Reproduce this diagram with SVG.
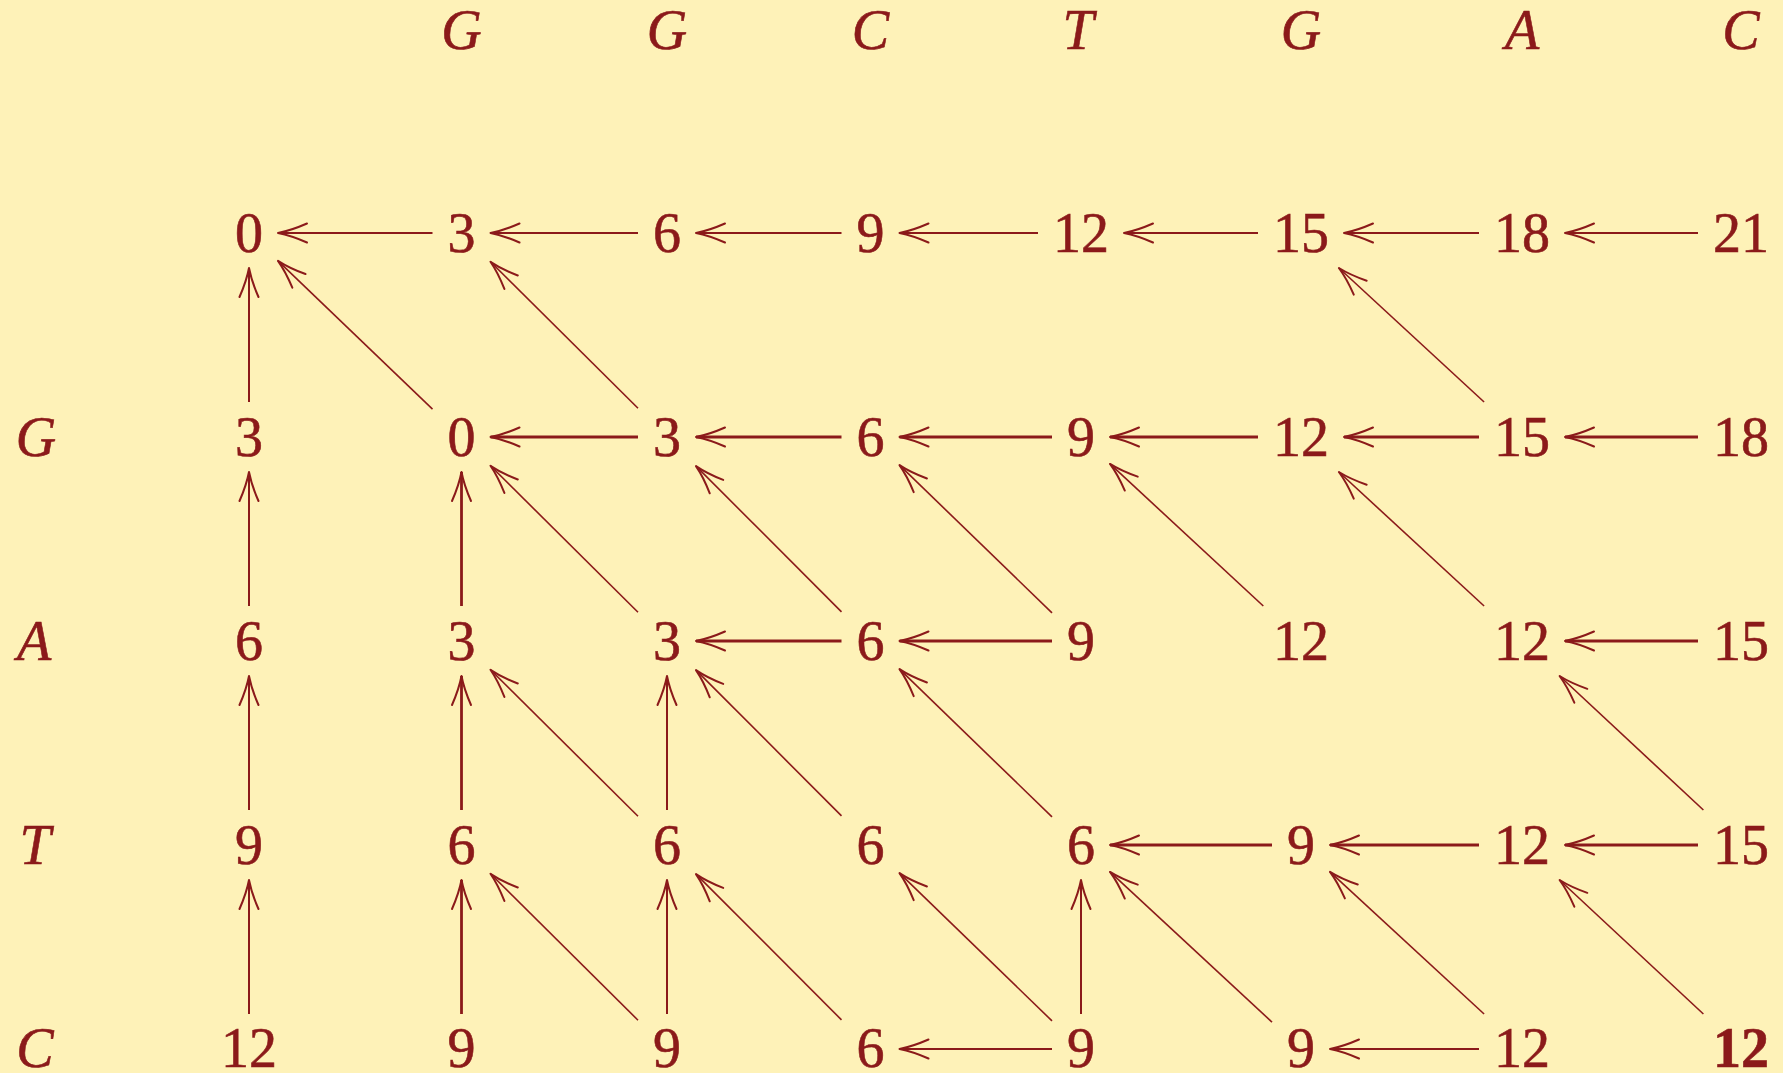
<svg xmlns="http://www.w3.org/2000/svg" width="1783" height="1073" viewBox="0 0 1783 1073">
<defs>
<style>
.n{font-family:"Liberation Serif","Times New Roman",serif;font-size:56px;fill:#8B1A1A;stroke:#8B1A1A;stroke-width:0.6;text-anchor:middle}
.l{font-style:italic}
.b{font-weight:bold}
.a{stroke:#8B1A1A;fill:none;marker-end:url(#ah)}
.h{stroke-width:2.8}
.s{stroke-width:2}
.d{stroke-width:1.6}
</style>
<marker id="ah" markerUnits="userSpaceOnUse" orient="auto" refX="0" refY="0" markerWidth="40" markerHeight="30" viewBox="-34 -15 40 30" overflow="visible">
<path d="M-29,-9.5 Q-13,-2.5 0,0 Q-13,2.5 -29,9.5" fill="none" stroke="#8B1A1A" stroke-width="2" stroke-linecap="round" stroke-linejoin="round"/>
</marker>
</defs>
<rect width="1783" height="1073" fill="#FEF2B8"/>

<g id="header">
<g id="h1"><text class="n l" x="461.5" y="49">G</text></g>
<g id="h2"><text class="n l" x="667" y="49">G</text></g>
<g id="h3"><text class="n l" x="870.5" y="49">C</text></g>
<g id="h4"><text class="n l" x="1078" y="49">T</text></g>
<g id="h5"><text class="n l" x="1301" y="49">G</text></g>
<g id="h6"><text class="n l" x="1522" y="49">A</text></g>
<g id="h7"><text class="n l" x="1741" y="49">C</text></g>
</g>
<g id="labels">
<g id="lG"><text class="n l" x="36" y="456">G</text></g>
<g id="lA"><text class="n l" x="34" y="660">A</text></g>
<g id="lT"><text class="n l" x="35" y="864">T</text></g>
<g id="lC"><text class="n l" x="35" y="1067">C</text></g>
</g>

<g id="row0">
<g id="n0-0"><text class="n" x="249" y="252">0</text></g>
<g id="n0-1"><text class="n" x="461.5" y="252">3</text></g>
<g id="n0-2"><text class="n" x="667" y="252">6</text></g>
<g id="n0-3"><text class="n" x="870.5" y="252">9</text></g>
<g id="n0-4"><text class="n" x="1081" y="252">12</text></g>
<g id="n0-5"><text class="n" x="1301" y="252">15</text></g>
<g id="n0-6"><text class="n" x="1522" y="252">18</text></g>
<g id="n0-7"><text class="n" x="1741" y="252">21</text></g>
</g>
<g id="row1">
<g id="n1-0"><text class="n" x="249" y="456">3</text></g>
<g id="n1-1"><text class="n" x="461.5" y="456">0</text></g>
<g id="n1-2"><text class="n" x="667" y="456">3</text></g>
<g id="n1-3"><text class="n" x="870.5" y="456">6</text></g>
<g id="n1-4"><text class="n" x="1081" y="456">9</text></g>
<g id="n1-5"><text class="n" x="1301" y="456">12</text></g>
<g id="n1-6"><text class="n" x="1522" y="456">15</text></g>
<g id="n1-7"><text class="n" x="1741" y="456">18</text></g>
</g>
<g id="row2">
<g id="n2-0"><text class="n" x="249" y="660">6</text></g>
<g id="n2-1"><text class="n" x="461.5" y="660">3</text></g>
<g id="n2-2"><text class="n" x="667" y="660">3</text></g>
<g id="n2-3"><text class="n" x="870.5" y="660">6</text></g>
<g id="n2-4"><text class="n" x="1081" y="660">9</text></g>
<g id="n2-5"><text class="n" x="1301" y="660">12</text></g>
<g id="n2-6"><text class="n" x="1522" y="660">12</text></g>
<g id="n2-7"><text class="n" x="1741" y="660">15</text></g>
</g>
<g id="row3">
<g id="n3-0"><text class="n" x="249" y="864">9</text></g>
<g id="n3-1"><text class="n" x="461.5" y="864">6</text></g>
<g id="n3-2"><text class="n" x="667" y="864">6</text></g>
<g id="n3-3"><text class="n" x="870.5" y="864">6</text></g>
<g id="n3-4"><text class="n" x="1081" y="864">6</text></g>
<g id="n3-5"><text class="n" x="1301" y="864">9</text></g>
<g id="n3-6"><text class="n" x="1522" y="864">12</text></g>
<g id="n3-7"><text class="n" x="1741" y="864">15</text></g>
</g>
<g id="row4">
<g id="n4-0"><text class="n" x="249" y="1067">12</text></g>
<g id="n4-1"><text class="n" x="461.5" y="1067">9</text></g>
<g id="n4-2"><text class="n" x="667" y="1067">9</text></g>
<g id="n4-3"><text class="n" x="870.5" y="1067">6</text></g>
<g id="n4-4"><text class="n" x="1081" y="1067">9</text></g>
<g id="n4-5"><text class="n" x="1301" y="1067">9</text></g>
<g id="n4-6"><text class="n" x="1522" y="1067">12</text></g>
<g id="n4-7"><text class="n b" x="1741" y="1067">12</text></g>
</g>

<g id="connectors">
<line class="a s" x1="432.5" y1="233" x2="278" y2="233"/>
<line class="a s" x1="638" y1="233" x2="490.5" y2="233"/>
<line class="a s" x1="841.5" y1="233" x2="696" y2="233"/>
<line class="a s" x1="1038" y1="233" x2="899.5" y2="233"/>
<line class="a s" x1="1258" y1="233" x2="1124" y2="233"/>
<line class="a s" x1="1479" y1="233" x2="1344" y2="233"/>
<line class="a s" x1="1698" y1="233" x2="1565" y2="233"/>

<line class="a h" x1="638" y1="437" x2="490.5" y2="437"/>
<line class="a h" x1="841.5" y1="437" x2="696" y2="437"/>
<line class="a h" x1="1052" y1="437" x2="899.5" y2="437"/>
<line class="a h" x1="1258" y1="437" x2="1110" y2="437"/>
<line class="a h" x1="1479" y1="437" x2="1344" y2="437"/>
<line class="a h" x1="1698" y1="437" x2="1565" y2="437"/>

<line class="a h" x1="841.5" y1="641" x2="696" y2="641"/>
<line class="a h" x1="1052" y1="641" x2="899.5" y2="641"/>
<line class="a h" x1="1698" y1="641" x2="1565" y2="641"/>

<line class="a h" x1="1272" y1="845" x2="1110" y2="845"/>
<line class="a h" x1="1479" y1="845" x2="1330" y2="845"/>
<line class="a h" x1="1698" y1="845" x2="1565" y2="845"/>

<line class="a s" x1="1052" y1="1049" x2="899.5" y2="1049"/>
<line class="a s" x1="1479" y1="1049" x2="1330" y2="1049"/>

<line class="a s" x1="249" y1="402" x2="249" y2="268"/>
<line class="a s" x1="249" y1="606" x2="249" y2="472"/>
<line class="a s" x1="249" y1="810" x2="249" y2="676"/>
<line class="a s" x1="249" y1="1014" x2="249" y2="880"/>
<line class="a h" x1="461.5" y1="606" x2="461.5" y2="472"/>
<line class="a h" x1="461.5" y1="810" x2="461.5" y2="676"/>
<line class="a h" x1="461.5" y1="1014" x2="461.5" y2="880"/>
<line class="a s" x1="667" y1="810" x2="667" y2="676"/>
<line class="a s" x1="667" y1="1014" x2="667" y2="880"/>
<line class="a s" x1="1081" y1="1014" x2="1081" y2="880"/>

<line class="a d" x1="432.5" y1="409.2" x2="278" y2="260.8"/>
<line class="a d" x1="638" y1="408.2" x2="490.5" y2="261.8"/>
<line class="a d" x1="1484.1" y1="402" x2="1338.9" y2="268"/>
<line class="a d" x1="638" y1="612.2" x2="490.5" y2="465.8"/>
<line class="a d" x1="841.5" y1="611.9" x2="696" y2="466.1"/>
<line class="a d" x1="1052" y1="612.9" x2="899.5" y2="465.1"/>
<line class="a d" x1="1263.3" y1="606" x2="1110" y2="463.9"/>
<line class="a d" x1="1484.1" y1="606" x2="1338.9" y2="472"/>
<line class="a d" x1="638" y1="816.2" x2="490.5" y2="669.8"/>
<line class="a d" x1="841.5" y1="815.9" x2="696" y2="670.1"/>
<line class="a d" x1="1052" y1="816.9" x2="899.5" y2="669.1"/>
<line class="a d" x1="1703.4" y1="810" x2="1559.6" y2="676"/>
<line class="a d" x1="638" y1="1020.2" x2="490.5" y2="873.8"/>
<line class="a d" x1="841.5" y1="1019.9" x2="696" y2="874.1"/>
<line class="a d" x1="1052" y1="1020.9" x2="899.5" y2="873.1"/>
<line class="a d" x1="1272" y1="1022.1" x2="1110" y2="871.9"/>
<line class="a d" x1="1484.1" y1="1014" x2="1330" y2="871.8"/>
<line class="a d" x1="1703.4" y1="1014" x2="1559.6" y2="880"/>
</g>
</svg>
